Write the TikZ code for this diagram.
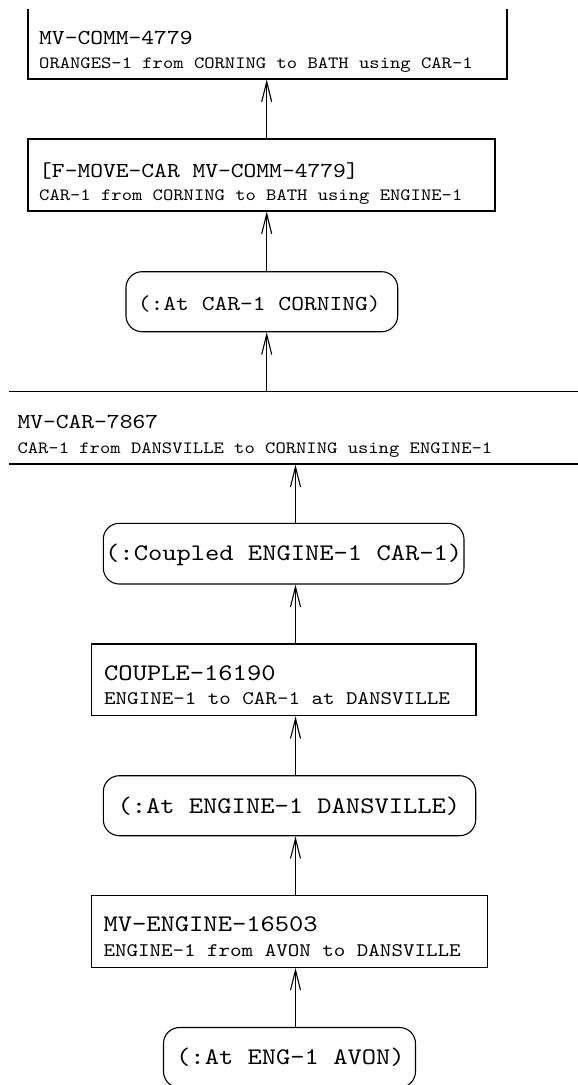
\documentclass[tikz,border=0pt]{standalone}
\usepackage{fontspec}
\usetikzlibrary{arrows.meta,calc}
\newfontfamily\courf[FakeStretch=1.143]{lmmono10-regular.otf}
\newcommand{\FtUT}{\courf\fontsize{21.3}{24}\selectfont}
\newcommand{\FtUS}{\courf\fontsize{17.2}{20}\selectfont}
\newcommand{\FtLT}{\courf\fontsize{23.8}{27}\selectfont}
\newcommand{\FtLS}{\courf\fontsize{19.2}{22}\selectfont}
\tikzset{
  boxsh/.style={draw, line width=1.1pt, rectangle, inner sep=0pt},
  condsh/.style={draw, line width=1.1pt, rectangle, rounded corners=16pt, inner sep=0pt},
  txt/.style={inner sep=0pt, anchor=base west},
  arr/.style={line width=1.1pt, -{Straight Barb[length=20pt,width=10pt,line width=1.1pt]}}
}
\newcommand{\mkbox}[6]{% name, style, left, top, right, bottom
  \node[#2, minimum width={#5-#3}, minimum height={#6-#4}] (#1) at ({(#3+#5)/2},{(#4+#6)/2}) {};}
\begin{document}
\begin{tikzpicture}[x=1pt,y=-1pt]
\useasboundingbox (0,0) rectangle (578,1085);
\fill[white] (0,0) rectangle (578,1085);
\clip (9,9) rectangle (578,1084);
\coordinate (axU) at (266.7,0);
\coordinate (axL) at (295.5,0);
% upper part
\mkbox{b1}{boxsh}{28}{-40}{507}{79}
\node[txt] (t1a) at (39,44) {\FtUT MV-COMM-4779};
\node[txt] (t1b) at (39,68.3) {\FtUS ORANGES-1 from CORNING to BATH using CAR-1};
\mkbox{b2}{boxsh}{28}{139}{495}{211}
\node[txt] (t2a) at (39,177.3) {\FtUT [F-MOVE-CAR MV-COMM-4779]};
\node[txt] (t2b) at (39,200) {\FtUS CAR-1 from CORNING to BATH using ENGINE-1};
\mkbox{b3}{condsh}{126}{271.7}{397.7}{331.7}
\node[txt] (t3) at (137.7,310.7) {\FtUT (:At CAR-1 CORNING)};
\mkbox{b4}{boxsh}{-30}{391.7}{620}{464}
\node[txt] (t4a) at (17.3,428.3) {\FtUT MV-CAR-7867};
\node[txt] (t4b) at (17.3,453.3) {\FtUS CAR-1 from DANSVILLE to CORNING using ENGINE-1};
% lower part
\mkbox{b5}{condsh}{103.3}{523.3}{464}{584}
\node[txt] (t5) at (105,560) {\FtLT (:Coupled ENGINE-1 CAR-1)};
\mkbox{b6}{boxsh}{91.7}{644}{476}{715.7}
\node[txt] (t6a) at (104,680) {\FtLT COUPLE-16190};
\node[txt] (t6b) at (104,704) {\FtLS ENGINE-1 to CAR-1 at DANSVILLE};
\mkbox{b7}{condsh}{103.3}{775.7}{475.7}{835.7}
\node[txt] (t7) at (117.3,813.3) {\FtLT (:At ENGINE-1 DANSVILLE)};
\mkbox{b8}{boxsh}{91.3}{895.7}{487.3}{967.3}
\node[txt] (t8a) at (103.3,931.7) {\FtLT MV-ENGINE-16503};
\node[txt] (t8b) at (103.3,956.7) {\FtLS ENGINE-1 from AVON to DANSVILLE};
\mkbox{b9}{condsh}{163.5}{1027.5}{415.5}{1087.5}
\node[txt] (t9) at (176,1064) {\FtLT (:At ENG-1 AVON)};
% connectors
\draw[arr] (b2.north -| axU) -- (b1.south -| axU);
\draw[arr] (b3.north -| axU) -- (b2.south -| axU);
\draw[arr] (b4.north -| axU) -- (b3.south -| axU);
\draw[arr] (b5.north -| axL) -- (b4.south -| axL);
\draw[arr] (b6.north -| axL) -- (b5.south -| axL);
\draw[arr] (b7.north -| axL) -- (b6.south -| axL);
\draw[arr] (b8.north -| axL) -- (b7.south -| axL);
\draw[arr] (b9.north -| axL) -- (b8.south -| axL);
\end{tikzpicture}
\end{document}
